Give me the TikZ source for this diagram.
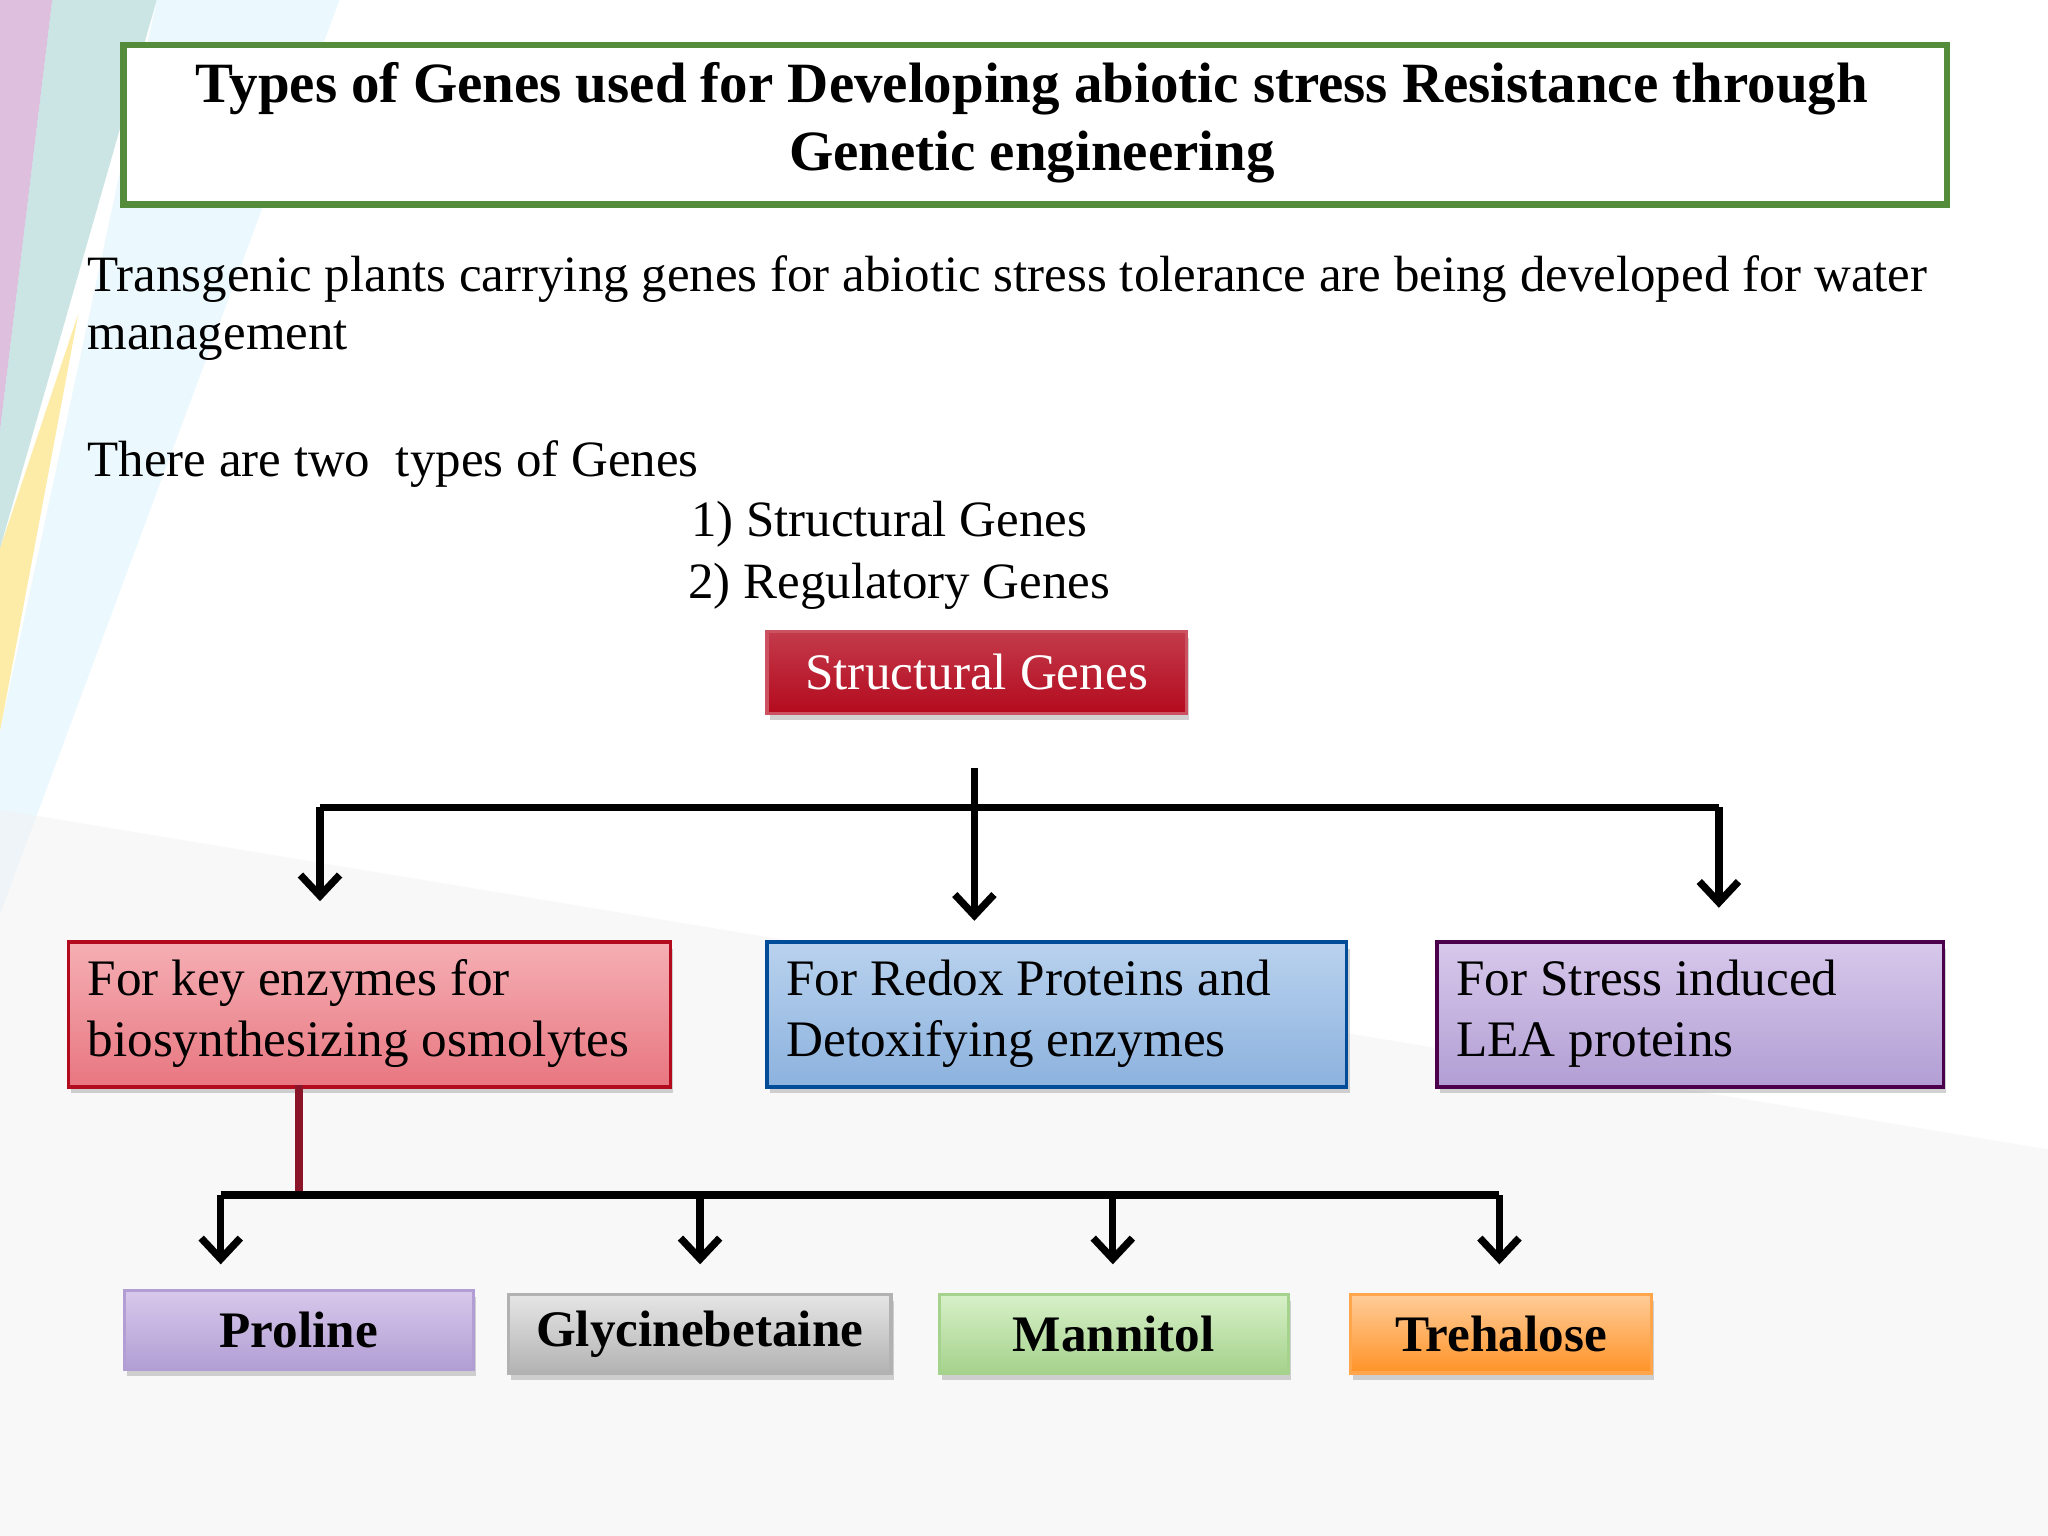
\documentclass[tikz,border=0pt]{standalone}
\usepackage{fontspec}
\setmainfont{Liberation Serif}
\usetikzlibrary{arrows.meta,shadows}
\definecolor{tgreen}{RGB}{84,140,60}
\definecolor{sred}{RGB}{180,10,30}
\definecolor{dred}{RGB}{140,20,40}
\definecolor{bA}{RGB}{185,210,238}
\definecolor{bB}{RGB}{140,178,222}
\definecolor{vA}{RGB}{215,200,235}
\definecolor{vB}{RGB}{178,158,212}
\definecolor{rA}{RGB}{245,175,180}
\definecolor{rB}{RGB}{232,118,128}
\definecolor{gA}{RGB}{215,240,200}
\definecolor{gB}{RGB}{165,210,140}
\tikzset{
  bx/.style={draw, line width=1.2pt, inner sep=0pt, anchor=north west, drop shadow={shadow xshift=1pt,shadow yshift=-2.5pt,opacity=0.35}},
  bt/.style={font=\fontsize{19.6}{23.5}\selectfont, align=left, anchor=west},
  lt/.style={font=\fontsize{19.5}{22}\selectfont, anchor=west},
  conn/.style={line width=2.8pt, black},
  arr/.style={conn, -{Straight Barb[length=8pt,width=15pt,line width=2.8pt]}},
  bold/.style={font=\fontsize{19.6}{22}\selectfont\bfseries}
}
\begin{document}
\begin{tikzpicture}[x=0.5pt,y=-0.5pt]
\useasboundingbox (0,0) rectangle (1568,1176);
\fill[white] (0,0) rectangle (1568,1176);
% background streaks
\fill[violet!50, opacity=0.5] (0,0) -- (40,0) -- (0,330) -- cycle;
\fill[teal!40, opacity=0.5] (40,0) -- (120,0) -- (0,420) -- (0,330) -- cycle;
\fill[yellow!60!orange, opacity=0.35] (0,420) -- (60,240) -- (0,560) -- cycle;
\fill[cyan!15, opacity=0.5] (0,560) -- (120,0) -- (260,0) -- (0,700) -- cycle;
\fill[gray!10, opacity=0.5] (0,620) -- (1568,880) -- (1568,1176) -- (0,1176) -- cycle;
% title
\node[draw=tgreen, line width=2.5pt, fill=white, minimum width=698pt, minimum height=61pt, anchor=north west, inner sep=0pt] (title) at (92,32) {};
\node[font=\fontsize{21.8}{26}\selectfont\bfseries, align=center] (tt) at (790,94) {Types of Genes used for Developing abiotic stress Resistance through\\Genetic engineering};
\node[lt] (p1) at (60,214) {Transgenic plants carrying genes for abiotic stress tolerance are being developed for water};
\node[lt] (p2) at (60,261) {management};
\node[lt] (p3) at (60,355) {There are two\ \ types of Genes};
\node[lt] (p4) at (522,401) {1) Structural Genes};
\node[lt] (p5) at (520,449) {2) Regulatory Genes};
% structural
\node[bx, draw=sred!70, top color=sred!80, bottom color=sred, minimum width=160.5pt, minimum height=31.5pt] (sg) at (586,482) {};
\node[font=\fontsize{19.6}{22}\selectfont, text=white] at (sg.center) {Structural Genes};
% level 2 boxes
\node[bx, draw=sred, top color=rA, bottom color=rB, minimum width=230.5pt, minimum height=55.5pt] (b1) at (51,720) {};
\node[bt] at (60,776) {For key enzymes for\\biosynthesizing osmolytes};
\node[bx, draw=blue!50!cyan!60!black, top color=bA, bottom color=bB, minimum width=222pt, minimum height=55.5pt] (b2) at (586,720) {};
\node[bt] at (595,776) {For Redox Proteins and\\Detoxifying enzymes};
\node[bx, draw=violet!60!black, top color=vA, bottom color=vB, minimum width=194pt, minimum height=55.5pt] (b3) at (1099,720) {};
\node[bt] at (1108,776) {For Stress induced\\LEA proteins};
% connectors level 1
\coordinate (j0) at (746,588);
\coordinate (jL) at (245,618);
\coordinate (jR) at (1316,618);
\coordinate (aL) at (245,690);
\coordinate (aM) at (746,705);
\coordinate (aR) at (1316,695);
\draw[conn] (jL) -- (jR);
\draw[arr] (jL) -- (aL);
\draw[arr] (jR) -- (aR);
\draw[arr] (j0) -- (aM);
% bottom boxes
\node[bx, draw=vB, top color=vA, bottom color=vB, minimum width=133.5pt, minimum height=30pt] (pr) at (94,987) {};
\node[bold] at (pr.center) {Proline};
\node[bx, draw=gray!60, top color=gray!20, bottom color=gray!60, minimum width=146.5pt, minimum height=30pt] (gl) at (388,990) {};
\node[bold] at (gl.center) {Glycinebetaine};
\node[bx, draw=gB, top color=gA, bottom color=gB, minimum width=133.5pt, minimum height=30pt] (ma) at (718,990) {};
\node[bold] at (ma.center) {Mannitol};
\node[bx, draw=orange!70, top color=orange!40, bottom color=orange!85, minimum width=115pt, minimum height=30pt] (tr) at (1033,990) {};
\node[bold] at (tr.center) {Trehalose};
% connectors level 2
\coordinate (k0) at (229,831);
\coordinate (k1) at (229,915);
\coordinate (kL) at (169,915);
\coordinate (kR) at (1148,915);
\draw[line width=2.8pt, dred] (k0) -- (k1);
\draw[conn] (kL) -- (kR);
\draw[arr] (kL) -- (169,968);
\draw[arr] (536,915) -- (536,968);
\draw[arr] (852,915) -- (852,968);
\draw[arr] (kR) -- (1148,968);
\end{tikzpicture}
\end{document}
